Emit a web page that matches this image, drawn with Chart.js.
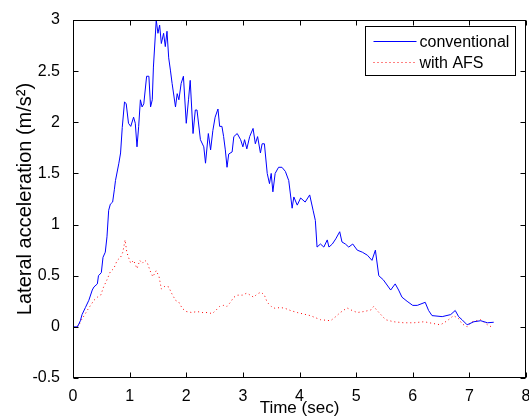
<!DOCTYPE html>
<html>
<head>
<meta charset="utf-8">
<script src="https://cdn.jsdelivr.net/npm/chart.js@4.4.0/dist/chart.umd.min.js"></script>
<style>
  html, body { margin: 0; padding: 0; background: #fff; }
  #wrap { width: 529px; height: 419px; }
</style>
</head>
<body>
<div id="wrap"><canvas id="accel-chart" width="529" height="419"></canvas></div>
<script>
// Time (sec) and lateral acceleration (m/s^2)
const timeConventional = [
    0, 0.08, 0.13, 0.16, 0.22, 0.28, 0.34, 0.37, 0.43, 0.45,
    0.50, 0.53, 0.57, 0.60, 0.63, 0.66, 0.70, 0.73, 0.75, 0.81,
    0.84, 0.87, 0.91, 0.94, 0.98, 1.02, 1.07, 1.10, 1.13, 1.16,
    1.19, 1.22, 1.25, 1.30, 1.34, 1.37, 1.40, 1.42, 1.47, 1.50,
    1.53, 1.56, 1.60, 1.63, 1.66, 1.69, 1.72, 1.75, 1.81, 1.84,
    1.87, 1.91, 1.95, 2.00, 2.04, 2.07, 2.12, 2.16, 2.19, 2.25,
    2.31, 2.34, 2.39, 2.43, 2.47, 2.51, 2.56, 2.59, 2.63, 2.66,
    2.69, 2.72, 2.75, 2.81, 2.84, 2.90, 2.96, 3.00, 3.03, 3.07,
    3.12, 3.18, 3.22, 3.26, 3.31, 3.34, 3.38, 3.43, 3.47, 3.50,
    3.53, 3.57, 3.63, 3.69, 3.75, 3.81, 3.87, 3.90, 3.96, 4.02,
    4.10, 4.18, 4.24, 4.28, 4.31, 4.37, 4.43, 4.49, 4.52, 4.58,
    4.64, 4.71, 4.75, 4.81, 4.87, 4.94, 5.02, 5.11, 5.20, 5.28,
    5.34, 5.40, 5.48, 5.61, 5.69, 5.75, 5.81, 5.90, 6.00, 6.08,
    6.22, 6.28, 6.34, 6.52, 6.67, 6.75, 6.81, 6.87, 6.96, 7.08,
    7.20, 7.32, 7.43
];
const accelConventional = [
    0, 0, 0.06, 0.12, 0.19, 0.26, 0.36, 0.39, 0.42, 0.50,
    0.53, 0.68, 0.73, 0.88, 1.14, 1.20, 1.22, 1.34, 1.43, 1.60,
    1.70, 1.95, 2.20, 2.18, 1.99, 1.96, 2.05, 1.99, 1.76, 1.96,
    2.22, 2.15, 2.18, 2.45, 2.45, 2.15, 2.22, 2.54, 3.00, 2.87,
    2.95, 2.77, 2.87, 2.74, 2.89, 2.63, 2.51, 2.38, 2.15, 2.28,
    2.22, 2.38, 2.45, 1.99, 2.22, 2.41, 1.89, 2.12, 2.12, 1.83,
    1.76, 1.60, 1.89, 1.73, 1.92, 2.05, 2.13, 1.96, 1.96, 1.86,
    1.73, 1.56, 1.69, 1.71, 1.86, 1.89, 1.83, 1.76, 1.83, 1.74,
    1.86, 1.94, 1.79, 1.86, 1.70, 1.79, 1.79, 1.50, 1.40, 1.50,
    1.32, 1.50, 1.56, 1.56, 1.52, 1.43, 1.16, 1.27, 1.19, 1.26,
    1.22, 1.29, 1.14, 1.04, 0.78, 0.81, 0.78, 0.85, 0.78, 0.81,
    0.86, 0.93, 0.83, 0.81, 0.78, 0.81, 0.75, 0.73, 0.70, 0.65,
    0.75, 0.50, 0.46, 0.36, 0.42, 0.36, 0.29, 0.25, 0.21, 0.21,
    0.24, 0.16, 0.11, 0.10, 0.12, 0.16, 0.10, 0.07, 0.02, 0.05,
    0.06, 0.04, 0.045
];
const timeAfs = [
    0, 0.10, 0.14, 0.22, 0.25, 0.31, 0.37, 0.43, 0.49, 0.54,
    0.60, 0.66, 0.72, 0.78, 0.84, 0.88, 0.92, 0.95, 0.98, 1.02,
    1.07, 1.13, 1.18, 1.22, 1.27, 1.31, 1.36, 1.41, 1.47, 1.52,
    1.56, 1.63, 1.69, 1.74, 1.81, 1.87, 1.93, 2.00, 2.10, 2.19,
    2.28, 2.37, 2.46, 2.52, 2.59, 2.66, 2.72, 2.78, 2.84, 2.91,
    2.99, 3.07, 3.13, 3.19, 3.25, 3.32, 3.38, 3.43, 3.50, 3.57,
    3.66, 3.75, 3.84, 3.96, 4.19, 4.37, 4.55, 4.64, 4.72, 4.84,
    4.93, 5.02, 5.14, 5.26, 5.31, 5.37, 5.52, 5.66, 5.84, 6.02,
    6.20, 6.34, 6.49, 6.61, 6.72, 6.81, 6.87, 6.96, 7.05, 7.20,
    7.32, 7.39
];
const accelAfs = [
    0, 0.01, 0.06, 0.13, 0.16, 0.21, 0.26, 0.29, 0.31, 0.39,
    0.46, 0.54, 0.57, 0.65, 0.68, 0.73, 0.85, 0.73, 0.68, 0.62,
    0.65, 0.57, 0.65, 0.62, 0.65, 0.63, 0.55, 0.49, 0.55, 0.49,
    0.37, 0.40, 0.39, 0.33, 0.26, 0.24, 0.18, 0.15, 0.14, 0.15,
    0.14, 0.14, 0.13, 0.16, 0.20, 0.21, 0.20, 0.24, 0.29, 0.31,
    0.31, 0.33, 0.31, 0.29, 0.32, 0.34, 0.31, 0.24, 0.20, 0.18,
    0.19, 0.18, 0.16, 0.14, 0.11, 0.07, 0.06, 0.10, 0.14, 0.185,
    0.16, 0.14, 0.15, 0.165, 0.20, 0.16, 0.07, 0.05, 0.04, 0.04,
    0.05, 0.035, 0.02, 0.06, 0.11, 0.08, 0.03, 0.0, 0.05, 0.07,
    0.02, 0.0
];
const seriesNames = ['conventional', 'with AFS'];
const xTicks = [0, 1, 2, 3, 4, 5, 6, 7, 8];
const yTicks = [-0.5, 0, 0.5, 1, 1.5, 2, 2.5, 3];

const FONT = 'Arial, "Liberation Sans", sans-serif';
const toPoints = (xs, ys) => xs.map((x, i) => ({ x: x, y: ys[i] }));

// MATLAB style box with inward ticks on all four sides
const boxPlugin = {
    id: 'matlabBox',
    afterDraw(chart) {
        const { ctx, chartArea: a, scales } = chart;
        const L = Math.round(a.left) + 0.5, R = Math.round(a.right) - 0.5;
        const T = Math.round(a.top) + 0.5, B = Math.round(a.bottom) - 0.5;
        ctx.save();
        ctx.strokeStyle = '#000';
        ctx.lineWidth = 1;
        ctx.strokeRect(L, T, R - L, B - T);
        ctx.beginPath();
        xTicks.forEach(v => {
            const px = Math.round(scales.x.getPixelForValue(v)) + 0.5;
            ctx.moveTo(px, B); ctx.lineTo(px, B - 5);
            ctx.moveTo(px, T); ctx.lineTo(px, T + 5);
        });
        yTicks.forEach(v => {
            const py = Math.round(scales.y.getPixelForValue(v)) + 0.5;
            ctx.moveTo(L, py); ctx.lineTo(L + 5, py);
            ctx.moveTo(R, py); ctx.lineTo(R - 5, py);
        });
        ctx.stroke();

        // legend box in the upper right corner
        const bx = R - 160, by = T + 6, bw = 150, bh = 49;
        ctx.fillStyle = '#fff';
        ctx.fillRect(bx, by, bw, bh);
        ctx.strokeRect(bx, by, bw, bh);
        chart.data.datasets.forEach((ds, i) => {
            const ly = Math.round(by + 14 + i * 21) + 0.5;
            ctx.beginPath();
            ctx.strokeStyle = ds.borderColor;
            ctx.setLineDash(ds.borderDash || []);
            ctx.moveTo(bx + 8, ly);
            ctx.lineTo(bx + 51, ly);
            ctx.stroke();
            ctx.setLineDash([]);
            ctx.fillStyle = '#000';
            ctx.font = '16px ' + FONT;
            ctx.textBaseline = 'middle';
            ctx.fillText(ds.label, bx + 54, ly + 1);
        });
        ctx.restore();
    }
};

new Chart(document.getElementById('accel-chart').getContext('2d'), {
    type: 'line',
    data: {
        datasets: [
            {
                label: seriesNames[0],
                data: toPoints(timeConventional, accelConventional),
                borderColor: 'rgb(0, 0, 255)',
                borderWidth: 1,
                pointRadius: 0,
                tension: 0,
            },
            {
                label: seriesNames[1],
                data: toPoints(timeAfs, accelAfs),
                borderColor: 'rgb(255, 0, 0)',
                borderWidth: 1,
                borderDash: [1, 3],
                pointRadius: 0,
                tension: 0,
            }
        ]
    },
    options: {
        responsive: false,
        animation: false,
        layout: { padding: { top: 20, right: 3, left: 0, bottom: 0 } },
        plugins: {
            legend: { display: false },
            tooltip: { enabled: false },
        },
        scales: {
            x: {
                type: 'linear',
                min: 0,
                max: 8,
                afterBuildTicks: s => { s.ticks = xTicks.map(v => ({ value: v })); },
                afterFit: s => { s.height = 41; s.paddingLeft = 0; s.paddingRight = 0; },
                grid: { display: false },
                border: { display: false },
                ticks: { color: '#000', padding: 1, font: { family: FONT, size: 16 } },
                title: {
                    display: true,
                    text: 'Time (sec)',
                    color: '#000',
                    padding: { top: 0, bottom: 0 },
                    font: { family: FONT, size: 17 },
                },
            },
            y: {
                min: -0.5,
                max: 3,
                afterBuildTicks: s => { s.ticks = yTicks.map(v => ({ value: v })); },
                afterFit: s => { s.width = 73; s.paddingTop = 0; s.paddingBottom = 0; },
                grid: { display: false },
                border: { display: false },
                ticks: {
                    color: '#000',
                    padding: 5,
                    font: { family: FONT, size: 16 },
                    callback: v => String(v),
                },
                title: {
                    display: true,
                    text: 'Lateral acceleration (m/s²)',
                    color: '#000',
                    padding: { top: 13, bottom: 0 },
                    font: { family: FONT, size: 20 },
                },
            },
        },
    },
    plugins: [boxPlugin],
});
</script>
</body>
</html>
